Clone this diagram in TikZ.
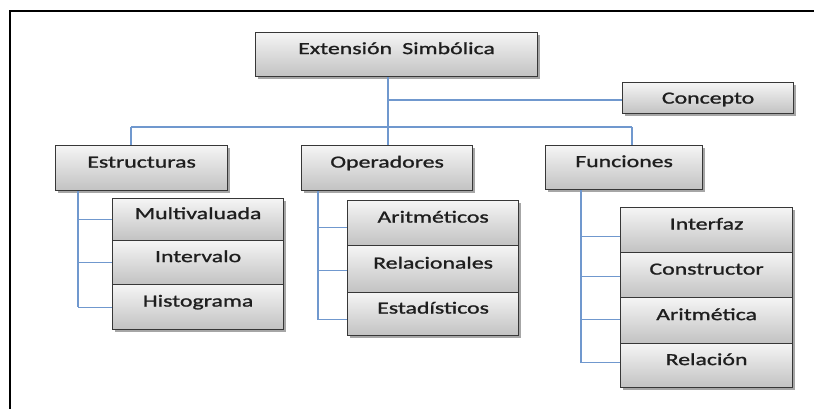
\documentclass[tikz,border=0pt]{standalone}
\usepackage{fontspec}
\setmainfont{Carlito}[FakeStretch=1.4,FakeBold=1.2]
\usetikzlibrary{shadows}
\definecolor{conncol}{RGB}{112,152,206}
\definecolor{boxline}{RGB}{55,55,55}
\definecolor{txtcol}{RGB}{30,30,30}
\begin{document}
\begin{tikzpicture}[x=1pt,y=-1pt,
  box/.style={draw=boxline, line width=1.2pt, top color=black!4, bottom color=black!24,
    drop shadow={shadow xshift=2.5pt,shadow yshift=-2.5pt,opacity=0.35,fill=black},
    anchor=north west, inner sep=0pt, text height=9pt, text depth=10pt,
    font=\fontsize{17}{20}\selectfont, text=txtcol},
  conn/.style={draw=conncol, line width=1.2pt}]
\useasboundingbox (0,0) rectangle (814,409);
\draw[line width=1.5pt] (10,409) -- (10,11) -- (814,11);

% top level
\node[box, minimum width=282pt, minimum height=44pt] (ext) at (255,32) {Extensión\hspace{0.6em}Simbólica};
\node[box, minimum width=171pt, minimum height=31pt, text height=11pt, text depth=0pt] (conc) at (622,82) {Concepto};

% second level
\node[box, minimum width=172pt, minimum height=45pt] (estr) at (55,145) {Estructuras};
\node[box, minimum width=171pt, minimum height=45pt] (oper) at (301,145) {Operadores};
\node[box, minimum width=157pt, minimum height=44pt] (func) at (545,145) {Funciones};

% Estructuras children
\node[box, minimum width=171pt, minimum height=42pt] (multi) at (112,198) {Multivaluada};
\node[box, minimum width=171pt, minimum height=44pt] (inter) at (112,240) {Intervalo};
\node[box, minimum width=171pt, minimum height=45pt] (histo) at (112,284) {Histograma};

% Operadores children
\node[box, minimum width=171pt, minimum height=45pt] (arit) at (347,200) {Aritméticos};
\node[box, minimum width=171pt, minimum height=47pt] (rel) at (347,245) {Relacionales};
\node[box, minimum width=171pt, minimum height=43pt] (est) at (347,292) {Estadísticos};

% Funciones children
\node[box, minimum width=172pt, minimum height=45pt] (intf) at (620,207) {Interfaz};
\node[box, minimum width=172pt, minimum height=45pt] (cons) at (620,252) {Constructor};
\node[box, minimum width=172pt, minimum height=46pt] (aritm) at (620,297) {Aritmética};
\node[box, minimum width=172pt, minimum height=44pt] (relac) at (620,343) {Relación};

% top connectors
\coordinate (j1) at (388,100);
\coordinate (j2) at (388,127);
\coordinate (bE) at (131,127);
\coordinate (bF) at (632,127);
\draw[conn] (j2 |- ext.south) -- (j2);
\draw[conn] (j1) -- (j1 -| conc.west);
\draw[conn] (bE) -- (bF);
\draw[conn] (bE) -- (bE |- estr.north);
\draw[conn] (j2) -- (j2 |- oper.north);
\draw[conn] (bF) -- (bF |- func.north);

% Estructuras branch
\coordinate (tE) at (78,0);
\draw[conn] (tE |- estr.south) -- (tE |- histo.west);
\draw[conn] (tE |- multi.west) -- (multi.west);
\draw[conn] (tE |- inter.west) -- (inter.west);
\draw[conn] (tE |- histo.west) -- (histo.west);

% Operadores branch
\coordinate (tO) at (318,0);
\coordinate (oA) at ([yshift=-4.5pt]arit.west);
\coordinate (oR) at ([yshift=-1.5pt]rel.west);
\coordinate (oS) at ([yshift=-5.5pt]est.west);
\draw[conn] (tO |- oper.south) -- (tO |- oS);
\draw[conn] (tO |- oA) -- (oA);
\draw[conn] (tO |- oR) -- (oR);
\draw[conn] (tO |- oS) -- (oS);

% Funciones branch
\coordinate (tF) at (581,0);
\coordinate (fI) at ([yshift=-6.5pt]intf.west);
\coordinate (fC) at ([yshift=-1.5pt]cons.west);
\coordinate (fA) at ([yshift=1pt]aritm.west);
\coordinate (fR) at ([yshift=3pt]relac.west);
\draw[conn] (tF |- func.south) -- (tF |- fR);
\draw[conn] (tF |- fI) -- (fI);
\draw[conn] (tF |- fC) -- (fC);
\draw[conn] (tF |- fA) -- (fA);
\draw[conn] (tF |- fR) -- (fR);
\end{tikzpicture}
\end{document}
